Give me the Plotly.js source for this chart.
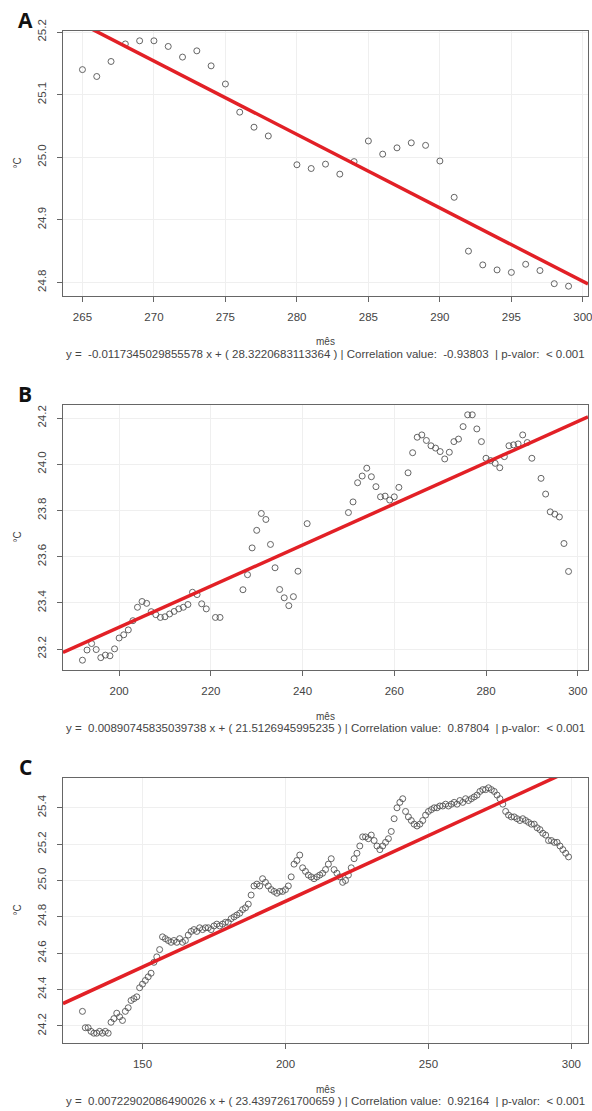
<!DOCTYPE html>
<html>
<head>
<meta charset="utf-8">
<script src="https://cdn.plot.ly/plotly-3.0.1.min.js"></script>
<style>html,body{margin:0;padding:0;background:#fff;}#chart{width:592px;height:1111px;}</style>
</head>
<body>
<div id="chart"></div>
<script>
// ---------- Panel A ----------
const A_mes = [265,266,267,268,269,270,271,272,273,274,275,276,277,278,280,281,282,283,284,285,286,287,288,289,290,291,292,293,294,295,296,297,298,299];
const A_temp = [25.140,25.129,25.153,25.181,25.186,25.186,25.177,25.160,25.170,25.146,25.117,25.072,25.048,25.034,24.988,24.982,24.989,24.973,24.993,25.026,25.005,25.015,25.023,25.019,24.994,24.936,24.850,24.828,24.820,24.816,24.829,24.819,24.798,24.794];
const A_slope = -0.0117345029855578, A_intercept = 28.3220683113364;
const A_label = "y =\u00a0 -0.0117345029855578 x + ( 28.3220683113364 ) | Correlation value:\u00a0 -0.93803\u00a0 | p-valor:\u00a0 < 0.001";

// ---------- Panel B ----------
const B_mes = [192,193,194,195,196,197,198,199,200,201,202,203,204,205,206,207,208,209,210,211,212,213,214,215,216,217,218,219,221,222,
  227,228,229,230,231,232,233,234,235,236,237,238,239,241,
  250,251,252,253,254,255,256,257,258,259,260,261,263,264,265,266,267,268,269,270,271,272,273,274,275,276,277,278,279,280,281,282,283,284,285,286,287,288,289,290,
  292,293,294,295,296,297,298];
const B_temp = [23.152,23.196,23.224,23.198,23.163,23.174,23.171,23.201,23.248,23.262,23.283,23.323,23.381,23.406,23.398,23.362,23.349,23.337,23.340,23.352,23.363,23.374,23.381,23.393,23.446,23.436,23.396,23.374,23.337,23.337,
  23.457,23.522,23.638,23.714,23.787,23.761,23.653,23.552,23.458,23.422,23.388,23.427,23.537,23.743,
  23.791,23.837,23.920,23.949,23.983,23.946,23.903,23.859,23.862,23.845,23.859,23.900,23.963,24.050,24.117,24.127,24.103,24.080,24.070,24.055,24.023,24.052,24.098,24.109,24.163,24.214,24.214,24.153,24.098,24.026,24.016,24.004,23.985,24.033,24.080,24.084,24.088,24.127,24.094,24.026,
  23.939,23.871,23.794,23.784,23.772,23.657,23.536];
const B_slope = 0.00890745835039738, B_intercept = 21.5126945995235;
const B_label = "y =\u00a0 0.00890745835039738 x + ( 21.5126945995235 ) | Correlation value:\u00a0 0.87804\u00a0 | p-valor:\u00a0 < 0.001";

// ---------- Panel C ----------
const C_mes = [];
for (let m = 129; m <= 299; m++) C_mes.push(m);
const C_temp = [24.28,24.19,24.19,24.17,24.16,24.16,24.17,24.16,24.17,24.16,24.22,24.24,24.27,24.25,24.23,24.28,24.30,24.34,24.35,24.36,
  24.41,24.43,24.45,24.47,24.49,24.55,24.58,24.62,24.69,24.68,24.67,24.66,24.67,24.66,24.68,24.66,24.67,24.70,24.72,24.73,
  24.72,24.74,24.73,24.74,24.74,24.73,24.75,24.76,24.75,24.76,24.77,24.77,24.79,24.80,24.81,24.82,24.84,24.85,24.87,24.92,
  24.97,24.98,24.97,25.01,24.99,24.97,24.95,24.94,24.93,24.94,24.94,24.95,24.97,25.02,25.09,25.11,25.14,25.07,25.05,25.03,
  25.02,25.01,25.02,25.03,25.04,25.06,25.09,25.12,25.06,25.04,25.02,24.99,25.00,25.03,25.07,25.12,25.15,25.19,25.24,25.24,
  25.23,25.25,25.22,25.19,25.17,25.19,25.21,25.23,25.27,25.34,25.40,25.43,25.45,25.38,25.35,25.33,25.31,25.30,25.31,25.33,
  25.36,25.38,25.39,25.40,25.40,25.41,25.41,25.42,25.41,25.42,25.43,25.42,25.44,25.43,25.45,25.44,25.45,25.46,25.47,25.49,
  25.50,25.50,25.51,25.50,25.49,25.47,25.45,25.42,25.38,25.36,25.35,25.35,25.34,25.33,25.34,25.33,25.32,25.31,25.31,25.29,
  25.28,25.26,25.25,25.22,25.22,25.21,25.21,25.19,25.17,25.15,25.13];
const C_slope = 0.00722902086490026, C_intercept = 23.4397261700659;
const C_label = "y =\u00a0 0.00722902086490026 x + ( 23.4397261700659 ) | Correlation value:\u00a0 0.92164\u00a0 | p-valor:\u00a0 < 0.001";

const xTitle = "mês", yTitle = "°C";
const letters = ["A","B","C"];

// ---------- build ----------
const W = 592, H = 1111;
const plotL = 63, plotR = 588;
function rng(arr){ const mn=Math.min(...arr), mx=Math.max(...arr), s=(mx-mn)*0.04; return [mn-s, mx+s]; }
const panels = [
  {x:A_mes, y:A_temp, a:A_slope, b:A_intercept, lab:A_label, top:31, bot:296, dx:5, x0:265, dy:0.1, y0:24.8},
  {x:B_mes, y:B_temp, a:B_slope, b:B_intercept, lab:B_label, top:405, bot:670, dx:20, x0:200, dy:0.2, y0:23.2},
  {x:C_mes, y:C_temp, a:C_slope, b:C_intercept, lab:C_label, top:778, bot:1043, dx:50, x0:150, dy:0.2, y0:24.2}
];
const traces = [], layout = {
  width: W, height: H, margin:{l:plotL, r:W-plotR, t:0, b:0},
  paper_bgcolor:'#fff', plot_bgcolor:'#fff', showlegend:false,
  font:{family:'Liberation Sans, Arial, sans-serif', color:'#444'},
  annotations: []
};
const py = p => 1 - p/H;
const pxX = p => (p - plotL)/(plotR - plotL);
panels.forEach((P, i) => {
  const n = i === 0 ? '' : String(i+1);
  const xr = rng(P.x), yr = rng(P.y);
  traces.push({x:P.x, y:P.y, xaxis:'x'+n, yaxis:'y'+n, type:'scatter', mode:'markers',
    marker:{symbol:'circle-open', size:6, color:'#555', line:{width:0.9, color:'#555'}}, hoverinfo:'skip'});
  traces.push({x:[xr[0], xr[1]], y:[P.a*xr[0]+P.b, P.a*xr[1]+P.b], xaxis:'x'+n, yaxis:'y'+n, type:'scatter', mode:'lines',
    line:{color:'rgb(226,32,38)', width:3.5}, hoverinfo:'skip'});
  const common = {showline:true, mirror:true, linecolor:'#666', linewidth:1.3, ticks:'outside', ticklen:5, tickcolor:'#666',
    showgrid:true, gridcolor:'#efefef', gridwidth:1, zeroline:false, tickfont:{size:11.5, color:'#444'},
    ticklabeloverflow:'allow'};
  layout['xaxis'+n] = Object.assign({}, common, {domain:[0,1], anchor:'y'+n, range:xr, tick0:P.x0, dtick:P.dx,
    ticklabelstandoff:5});
  layout['yaxis'+n] = Object.assign({}, common, {domain:[py(P.bot), py(P.top)], anchor:'x'+n, range:yr, tick0:P.y0, dtick:P.dy,
    tickformat:'.1f', tickangle:-90, ticklabelstandoff:6});
  layout.annotations.push({xref:'paper', yref:'paper', x:pxX(25), y:py(P.top-11), text:'<b>'+letters[i]+'</b>', showarrow:false,
    xanchor:'center', yanchor:'middle', font:{family:'Open Sans, Liberation Sans, sans-serif', size:21, color:'#111'}});
  layout.annotations.push({xref:'paper', yref:'paper', x:pxX(17), y:py((P.top+P.bot)/2), text:yTitle, showarrow:false,
    textangle:-90, xanchor:'center', yanchor:'middle', font:{size:10, color:'#444'}});
  layout.annotations.push({xref:'paper', yref:'paper', x:0.5, y:py(P.bot+46), text:xTitle, showarrow:false,
    xanchor:'center', yanchor:'middle', font:{size:10, color:'#444'}});
  layout.annotations.push({xref:'paper', yref:'paper', x:0.5, y:py(P.bot+58), text:P.lab, showarrow:false,
    xanchor:'center', yanchor:'middle', font:{size:11.5, color:'#444'}});
});
Plotly.newPlot('chart', traces, layout, {staticPlot:true, displayModeBar:false});
</script>
</body>
</html>
